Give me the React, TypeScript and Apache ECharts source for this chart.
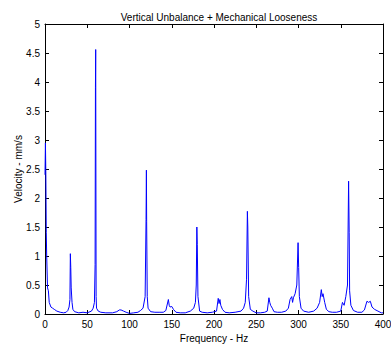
import React, { useEffect, useRef } from "react";
import * as echarts from "echarts";

const titleText = "Vertical Unbalance + Mechanical Looseness";
const xName = "Frequency - Hz";
const yName = "Velocity - mm/s";

const freqHz = [
  0, 0.5, 1, 1.5, 2, 3, 4, 5, 7, 9, 11, 14, 18, 22, 25, 27, 28.5, 29.5, 30, 30.5, 31, 32, 33, 35,
  40, 45, 50, 55, 57, 58.5, 59.3, 59.7, 60, 60.5, 61, 63, 66, 72, 80, 85, 88, 90, 93, 96, 100,
  105, 110, 113, 116, 118.5, 119.6, 120, 120.3, 121, 122, 125, 130, 136, 140, 143, 146, 147, 148,
  150, 152, 155, 160, 166, 172, 176, 178, 179, 179.7, 180.2, 181, 183, 186, 192, 198, 203, 205,
  206, 207, 208, 210, 213, 218, 225, 232, 235, 237, 238.5, 239.5, 240, 241, 243, 246, 250, 255,
  260, 263, 265, 266, 267, 269, 271, 275, 280, 285, 288, 290, 292, 293, 294, 296, 298, 299.5,
  300.2, 301, 303, 306, 312, 318, 322, 325, 327, 328, 329, 331, 333, 336, 340, 345, 350, 352,
  354, 356, 358, 359.3, 360, 360.5, 362, 365, 370, 375, 378, 381, 383, 385, 387, 390, 394, 398, 400,
];

const velocity = [
  2.4, 2.95, 2.4, 1.4, 1.0, 0.45, 0.4, 0.2, 0.12, 0.1, 0.08, 0.05, 0.03, 0.02, 0.03, 0.06, 0.12,
  0.25, 1.04, 0.8, 0.45, 0.2, 0.08, 0.04, 0.02, 0.03, 0.02, 0.05, 0.1, 0.2, 0.85, 3.9, 4.56, 0.3,
  0.1, 0.05, 0.03, 0.02, 0.02, 0.04, 0.07, 0.07, 0.05, 0.03, 0.01, 0.02, 0.03, 0.06, 0.1, 0.3,
  1.63, 2.48, 1.6, 0.3, 0.1, 0.04, 0.03, 0.03, 0.03, 0.06, 0.25, 0.15, 0.12, 0.13, 0.08, 0.03,
  0.02, 0.02, 0.05, 0.1, 0.2, 0.5, 1.5, 1.2, 0.3, 0.05, 0.03, 0.02, 0.03, 0.05, 0.27, 0.18, 0.25,
  0.15, 0.08, 0.03, 0.02, 0.03, 0.05, 0.1, 0.2, 0.6, 1.77, 1.5, 0.3, 0.08, 0.05, 0.02, 0.02, 0.03,
  0.05, 0.28, 0.2, 0.15, 0.1, 0.04, 0.03, 0.03, 0.05, 0.1, 0.25, 0.3, 0.2, 0.28, 0.35, 0.5, 1.23,
  0.8, 0.3, 0.1, 0.05, 0.03, 0.05, 0.1, 0.2, 0.42, 0.3, 0.35, 0.2, 0.08, 0.04, 0.03, 0.03, 0.05,
  0.2, 0.15, 0.3, 0.5, 2.29, 1.4, 0.4, 0.15, 0.06, 0.03, 0.03, 0.07, 0.22, 0.2, 0.22, 0.12, 0.08,
  0.05, 0.02, 0.02,
];

const FONT = "Liberation Sans, Arial, sans-serif";

export default function App() {
  const ref = useRef<HTMLDivElement>(null);
  useEffect(() => {
    const chart = echarts.init(ref.current!, null, { renderer: "svg" });
    const data = freqHz.map((f, i) => [f, velocity[i]]);
    const axisCommon = {
      axisLine: { show: true, onZero: false, lineStyle: { color: "#000", width: 1 } },
      axisTick: { show: true, inside: true, length: 4, lineStyle: { color: "#000" } },
      splitLine: { show: false },
    };
    chart.setOption({
      animation: false,
      backgroundColor: "#fff",
      title: {
        text: titleText,
        left: 214,
        textAlign: "center",
        top: 7,
        textStyle: { fontFamily: FONT, fontSize: 10, fontWeight: "normal", color: "#000" },
      },
      grid: { left: 45, right: 8, top: 24, bottom: 32, outerBoundsMode: "none", containLabel: false },
      xAxis: [
        {
          type: "value",
          min: 0,
          max: 400,
          interval: 50,
          position: "bottom",
          name: xName,
          nameLocation: "middle",
          nameGap: 19,
          nameMoveOverlap: false,
          nameTextStyle: { fontFamily: FONT, fontSize: 10, color: "#000" },
          axisLabel: { fontFamily: FONT, fontSize: 10, color: "#000", margin: 5 },
          ...axisCommon,
        },
        {
          type: "value",
          min: 0,
          max: 400,
          interval: 50,
          position: "top",
          axisLabel: { show: false },
          ...axisCommon,
        },
      ],
      yAxis: [
        {
          type: "value",
          min: 0,
          max: 5,
          interval: 0.5,
          position: "left",
          name: yName,
          nameLocation: "middle",
          nameRotate: 90,
          nameGap: 22,
          nameMoveOverlap: false,
          nameTextStyle: { fontFamily: FONT, fontSize: 10, color: "#000" },
          axisLabel: { fontFamily: FONT, fontSize: 10, color: "#000", margin: 5 },
          ...axisCommon,
        },
        {
          type: "value",
          min: 0,
          max: 5,
          interval: 0.5,
          position: "right",
          axisLabel: { show: false },
          ...axisCommon,
        },
      ],
      series: [
        {
          type: "line",
          data,
          showSymbol: false,
          symbol: "none",
          lineStyle: { color: "#0000ff", width: 1 },
          itemStyle: { color: "#0000ff" },
        },
      ],
    });
    return () => chart.dispose();
  }, []);
  return <div ref={ref} style={{ width: 391, height: 346, position: "absolute", left: 0, top: 0 }} />;
}
